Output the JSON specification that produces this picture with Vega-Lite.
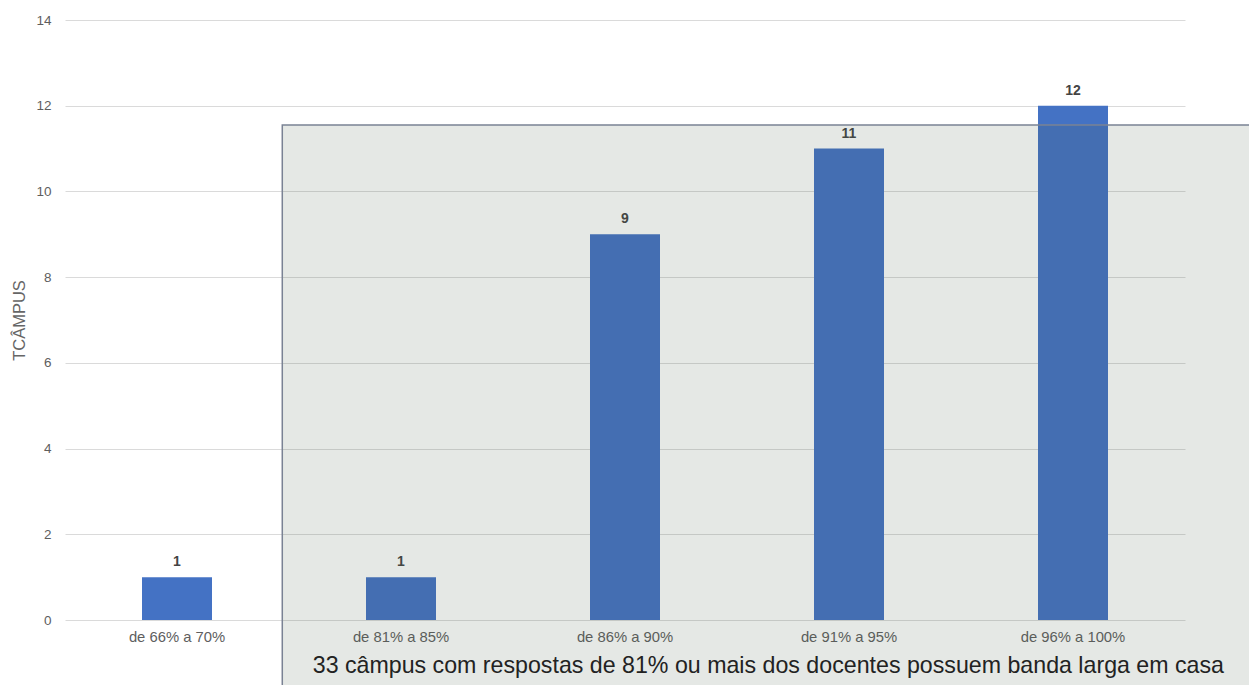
{
  "$schema": "https://vega.github.io/schema/vega-lite/v6.json",
  "autosize": "none",
  "padding": {"left": 65, "top": 20, "right": 64, "bottom": 65},
  "width": 1120,
  "height": 600,
  "background": "white",
  "config": {
    "view": {"stroke": null},
    "font": "Liberation Sans"
  },
  "data": {
    "values": [
      {"faixa": "de 66% a 70%", "campus": 1},
      {"faixa": "de 81% a 85%", "campus": 1},
      {"faixa": "de 86% a 90%", "campus": 9},
      {"faixa": "de 91% a 95%", "campus": 11},
      {"faixa": "de 96% a 100%", "campus": 12}
    ]
  },
  "resolve": {"scale": {"x": "independent"}, "axis": {"x": "independent"}},
  "layer": [
    {
      "encoding": {
        "x": {
          "field": "faixa",
          "type": "nominal",
          "sort": null,
          "scale": {"paddingInner": 0.6875, "paddingOuter": 0.34375},
          "axis": {
            "title": null,
            "labelAngle": 0,
            "labelColor": "#5e5e5e",
            "labelFontSize": 14.8,
            "labelPadding": 9,
            "ticks": false,
            "domain": false
          }
        },
        "y": {
          "field": "campus",
          "type": "quantitative",
          "scale": {"domain": [0, 14]},
          "axis": {
            "title": "TCÂMPUS",
            "titleColor": "#666666",
            "titleFontSize": 16.5,
            "titleFontWeight": "normal",
            "titlePadding": 8,
            "values": [0, 2, 4, 6, 8, 10, 12, 14],
            "labelColor": "#5e5e5e",
            "labelFontSize": 13.5,
            "labelPadding": 14,
            "ticks": false,
            "domain": false,
            "gridColor": "#dadada",
            "gridWidth": 1
          }
        }
      },
      "layer": [
        {"mark": {"type": "bar", "color": "#4472c4"}},
        {
          "mark": {"type": "text", "dy": -8, "baseline": "bottom", "color": "#444444", "fontSize": 14, "fontWeight": "bold"},
          "encoding": {"text": {"field": "campus", "type": "quantitative"}}
        }
      ]
    },
    {
      "data": {"values": [{"nota": "33 câmpus com respostas de 81% ou mais dos docentes possuem banda larga em casa"}]},
      "layer": [
        {
          "mark": {"type": "rect", "fill": "#4a5a48", "fillOpacity": 0.14, "stroke": "#7a8294", "strokeWidth": 1.5, "clip": false},
          "encoding": {
            "x": {"datum": 0.97, "type": "quantitative", "scale": {"domain": [0, 5]}, "axis": null},
            "x2": {"datum": 5.5},
            "y": {"datum": 11.55, "type": "quantitative"},
            "y2": {"datum": -2.5}
          }
        },
        {
          "mark": {"type": "text", "fontSize": 23.2, "color": "#222222", "baseline": "alphabetic", "align": "center", "clip": false},
          "encoding": {
            "x": {"datum": 3.14, "type": "quantitative", "scale": {"domain": [0, 5]}, "axis": null},
            "y": {"datum": -1.24, "type": "quantitative"},
            "text": {"field": "nota"}
          }
        }
      ]
    }
  ]
}
